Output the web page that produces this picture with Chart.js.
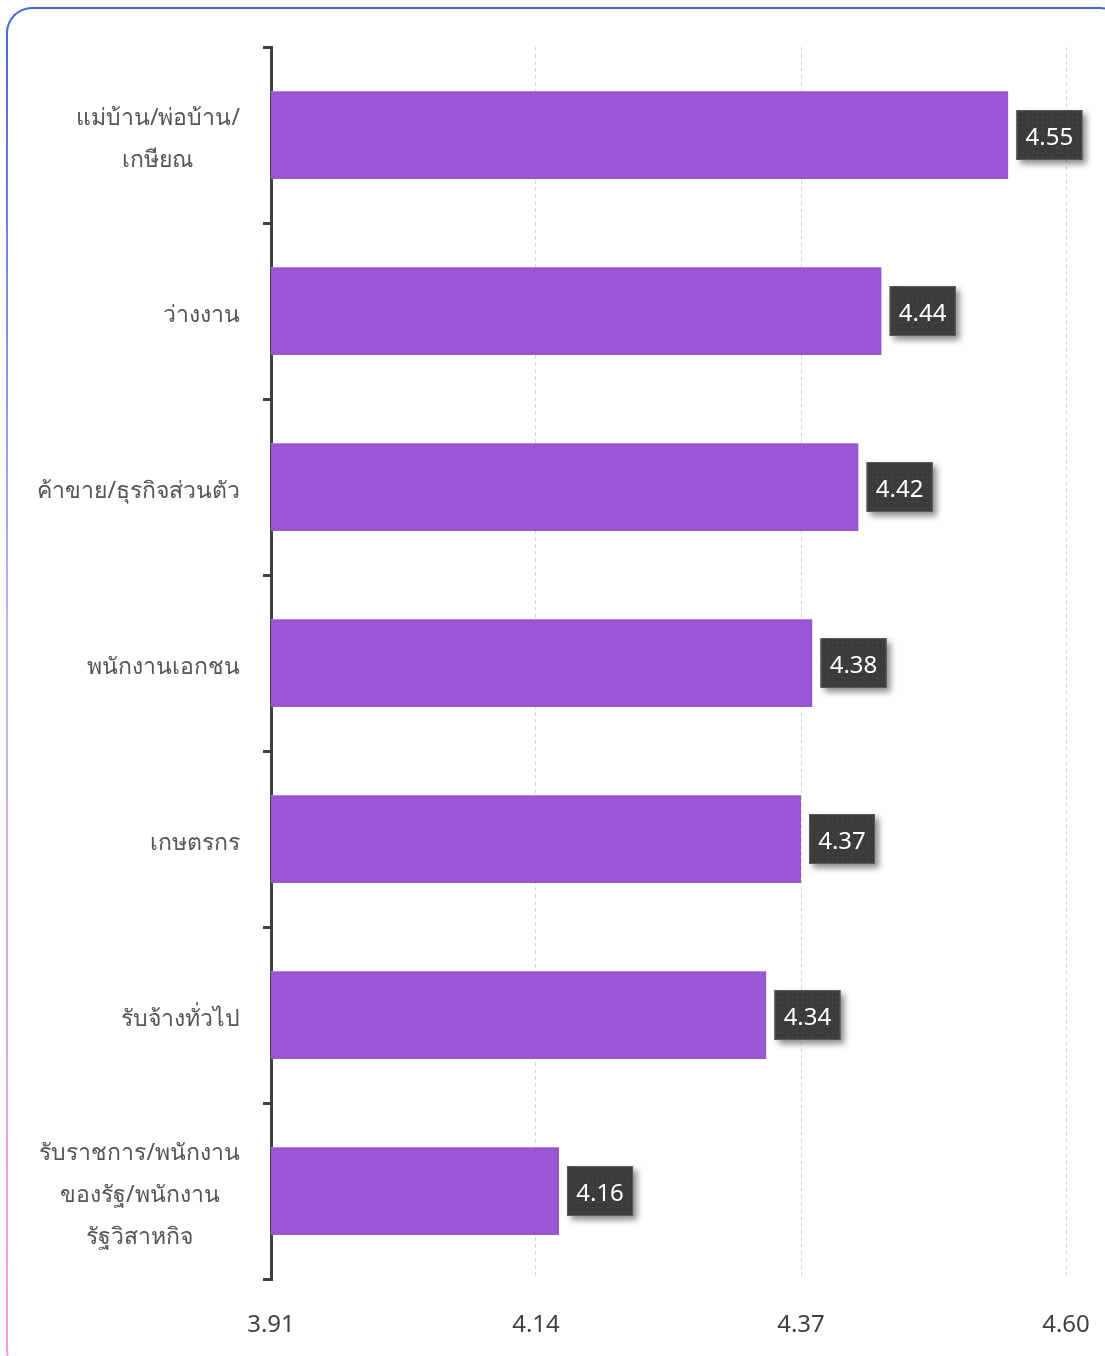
<!DOCTYPE html>
<html>
<head>
<meta charset="utf-8">
<script src="https://cdn.jsdelivr.net/npm/chart.js@4"></script>
<style>
  html, body { margin: 0; padding: 0; background: #fff; overflow: hidden; }
  #card {
    position: absolute; left: 6px; top: 7px;
    width: 1120px; height: 1370px;
    border: 2px solid transparent;
    border-radius: 26px;
    background: linear-gradient(#fff, #fff) padding-box,
                linear-gradient(to bottom, #3f68d2, #b9b6f6 45%, #ff9ad8) border-box;
    box-sizing: border-box;
  }
  #wrap { position: absolute; left: 0; top: 0; width: 1105px; height: 1356px; }
</style>
</head>
<body>
<div id="card"></div>
<div id="wrap"><canvas id="canvas1" width="1105" height="1356"></canvas></div>
<script>
// categories (multi-line labels as arrays)
let labelJobs = [
    ['แม่บ้าน/พ่อบ้าน/', 'เกษียณ'],
    ['ว่างงาน'],
    ['ค้าขาย/ธุรกิจส่วนตัว'],
    ['พนักงานเอกชน'],
    ['เกษตรกร'],
    ['รับจ้างทั่วไป'],
    ['รับราชการ/พนักงาน', 'ของรัฐ/พนักงาน', 'รัฐวิสาหกิจ']
];
let scores = [4.55, 4.44, 4.42, 4.38, 4.37, 4.34, 4.16];
let xTicks = [3.91, 4.14, 4.37, 4.60];

const FONT = '"Noto Sans", "Open Sans", sans-serif';

// dotted dark fill for the value boxes
function dotPattern(ctx) {
    let p = document.createElement('canvas');
    p.width = 5; p.height = 5;
    let c = p.getContext('2d');
    c.fillStyle = '#3b3b3b';
    c.fillRect(0, 0, 5, 5);
    c.fillStyle = '#4e4e4e';
    c.fillRect(2, 2, 1, 1);
    return ctx.createPattern(p, 'repeat');
}

// y labels: lines centred on each other, block right aligned
const yLabelPlugin = {
    id: 'yLabels',
    afterDraw(chart) {
        const ctx = chart.ctx;
        const ys = chart.scales.y;
        const rightX = 240;
        const lh = 42;
        ctx.save();
        ctx.font = '23px ' + FONT;
        ctx.fillStyle = '#555555';
        ctx.textAlign = 'center';
        ctx.textBaseline = 'middle';
        labelJobs.forEach((lines, i) => {
            let y = ys.getPixelForTick(i) + 4;
            let widest = Math.max(...lines.map(l => ctx.measureText(l).width));
            let cx = rightX - widest / 2;
            lines.forEach((l, j) => {
                ctx.fillText(l, cx, y + (j - (lines.length - 1) / 2) * lh);
            });
        });
        ctx.restore();
    }
};

// value boxes at the end of each bar
const valueBoxPlugin = {
    id: 'valueBoxes',
    afterDatasetsDraw(chart) {
        const ctx = chart.ctx;
        const meta = chart.getDatasetMeta(0);
        const pat = dotPattern(ctx);
        ctx.save();
        meta.data.forEach((bar, i) => {
            let w = 66, h = 50;
            let x = bar.x + 8;
            let y = bar.y - h / 2;
            ctx.save();
            ctx.shadowColor = 'rgba(0,0,0,0.45)';
            ctx.shadowBlur = 6;
            ctx.shadowOffsetX = 4;
            ctx.shadowOffsetY = 4;
            ctx.fillStyle = pat;
            ctx.fillRect(x, y, w, h);
            ctx.restore();
            ctx.strokeStyle = '#5a5a5a';
            ctx.lineWidth = 1;
            ctx.strokeRect(x + 0.5, y + 0.5, w - 1, h - 1);
            ctx.font = '24px ' + FONT;
            ctx.fillStyle = '#ffffff';
            ctx.textAlign = 'center';
            ctx.textBaseline = 'middle';
            ctx.fillText(scores[i].toFixed(2), x + w / 2, bar.y + 3);
        });
        ctx.restore();
    }
};

const ctx = document.getElementById('canvas1');
const chartJobs = new Chart(ctx, {
    type: 'bar',
    data: {
        labels: labelJobs,
        datasets: [{
            data: scores,
            backgroundColor: '#9955d3',
            borderColor: '#b384e2',
            borderWidth: {top: 1, right: 0, bottom: 0, left: 0},
            borderSkipped: false,
            categoryPercentage: 1,
            barPercentage: 0.5
        }]
    },
    options: {
        indexAxis: 'y',
        responsive: false,
        animation: false,
        layout: { padding: { left: 0, right: 39, top: 47, bottom: 0 } },
        plugins: {
            legend: { display: false },
            tooltip: { enabled: false }
        },
        scales: {
            x: {
                min: 3.91,
                max: 4.60,
                afterBuildTicks: (s) => { s.ticks = xTicks.map(v => ({value: v})); },
                afterFit: (s) => {
                    s.height = 77;
                    s.paddingLeft = 0;
                    s.paddingRight = 0;
                },
                grid: {
                    color: '#d9d9d9',
                    lineWidth: 1,
                    drawTicks: false
                },
                border: { display: false, dash: [4, 3] },
                ticks: {
                    padding: 32,
                    color: '#404040',
                    font: { family: FONT, size: 24 },
                    callback: (v) => Number(v).toFixed(2)
                }
            },
            y: {
                afterFit: (s) => {
                    s.width = 271;
                    s.paddingTop = 0;
                    s.paddingBottom = 0;
                },
                border: { display: true, color: '#404040', width: 3 },
                grid: {
                    drawOnChartArea: false,
                    drawTicks: true,
                    tickLength: 8,
                    color: '#404040',
                    lineWidth: 3
                },
                ticks: {
                    color: 'transparent',
                    padding: 23,
                    font: { family: FONT, size: 22 }
                }
            }
        }
    },
    plugins: [yLabelPlugin, valueBoxPlugin]
});
</script>
</body>
</html>
